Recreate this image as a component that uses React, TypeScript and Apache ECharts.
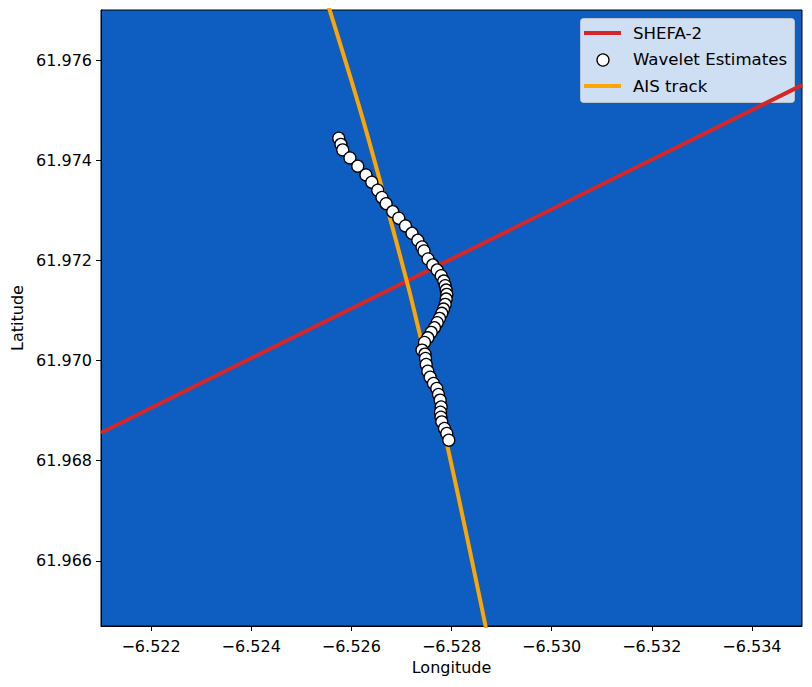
import React, { useEffect, useRef } from "react";
import * as echarts from "echarts";

// Wavelet estimates [longitude, latitude]
const waveletLon: number[] = [
  -6.525748, -6.525792, -6.525828, -6.525972, -6.526128, -6.526292, -6.526408, -6.526527,
  -6.526611, -6.526695, -6.526827, -6.526947, -6.527081, -6.527211, -6.527327, -6.527411,
  -6.527451, -6.527531, -6.527626, -6.527714, -6.527794, -6.527846, -6.527874, -6.527894,
  -6.527906, -6.527894, -6.527874, -6.52784, -6.527806, -6.52776, -6.527714, -6.52766,
  -6.527594, -6.527527, -6.52746, -6.527411, -6.527471, -6.527481, -6.527495, -6.527527,
  -6.527574, -6.52764, -6.527706, -6.52774, -6.527774, -6.527794, -6.52778, -6.52779,
  -6.527806, -6.52786, -6.527906, -6.527946,
];
const waveletLat: number[] = [
  61.974441, 61.974317, 61.974207, 61.974047, 61.973881, 61.973707, 61.973561, 61.973401,
  61.973257, 61.973133, 61.972974, 61.972842, 61.972688, 61.972542, 61.972402, 61.972268,
  61.972188, 61.972028, 61.971908, 61.971808, 61.971694, 61.971588, 61.971494, 61.971408,
  61.971322, 61.971228, 61.971122, 61.971028, 61.970943, 61.970843, 61.970755, 61.970655,
  61.970563, 61.970455, 61.970363, 61.970209, 61.970129, 61.970043, 61.969923, 61.969789,
  61.969669, 61.969543, 61.969443, 61.969323, 61.96921, 61.969075, 61.96897, 61.96887,
  61.968776, 61.968644, 61.968544, 61.96841,
];

// AIS track
const aisLon: number[] = [-6.525503, -6.526262, -6.527127, -6.527395, -6.527906, -6.528719];
const aisLat: number[] = [61.977205, 61.974707, 61.971508, 61.970409, 61.968344, 61.964512];

// SHEFA-2 cable
const shefaLon: number[] = [-6.521, -6.535];
const shefaLat: number[] = [61.96856, 61.9755];

const xTicks: number[] = [-6.522, -6.524, -6.526, -6.528, -6.53, -6.532, -6.534];
const yTicks: number[] = [61.966, 61.968, 61.97, 61.972, 61.974, 61.976];

const FONT = "DejaVu Sans";

export default function App() {
  const ref = useRef<HTMLDivElement>(null);
  useEffect(() => {
    if (!ref.current) return;
    const chart = echarts.init(ref.current, undefined, { renderer: "svg" });
    const zip = (a: number[], b: number[]) => a.map((v, i) => [v, b[i]]);
    const fmtX = (v: number) => (v < 0 ? "\u2212" : "") + Math.abs(v).toFixed(3);
    const legendFont = `16.6px '${FONT}'`;
    chart.setOption({
      animation: false,
      textStyle: { fontFamily: FONT },
      grid: {
        left: 101,
        right: 10,
        top: 10,
        bottom: 61,
        show: true,
        backgroundColor: "#0e5dc0",
        borderColor: "#000",
        borderWidth: 1,
      },
      xAxis: {
        type: "value",
        inverse: true,
        min: -6.535,
        max: -6.521,
        name: "Longitude",
        nameLocation: "middle",
        nameGap: 33,
        nameTextStyle: { fontSize: 16, color: "#000", fontFamily: FONT },
        axisLine: { show: true, onZero: false, lineStyle: { color: "#000", width: 1 } },
        axisTick: { show: true, length: 5, customValues: xTicks, lineStyle: { color: "#000" } },
        axisLabel: {
          customValues: xTicks,
          formatter: (v: number) => fmtX(v),
          fontSize: 16,
          color: "#000",
          fontFamily: FONT,
          margin: 12,
        },
        splitLine: { show: false },
      },
      yAxis: {
        type: "value",
        min: 61.9647,
        max: 61.977,
        name: "Latitude",
        nameLocation: "middle",
        nameGap: 70,
        nameTextStyle: { fontSize: 16, color: "#000", fontFamily: FONT },
        axisLine: { show: true, onZero: false, lineStyle: { color: "#000", width: 1 } },
        axisTick: { show: true, length: 5, customValues: yTicks, lineStyle: { color: "#000" } },
        axisLabel: {
          customValues: yTicks,
          formatter: (v: number) => v.toFixed(3),
          fontSize: 16,
          color: "#000",
          fontFamily: FONT,
          margin: 9,
        },
        splitLine: { show: false },
      },
      series: [
        {
          name: "SHEFA-2",
          type: "line",
          data: zip(shefaLon, shefaLat),
          showSymbol: false,
          lineStyle: { color: "#d62728", width: 4 },
          itemStyle: { color: "#d62728" },
          z: 2,
          clip: true,
        },
        {
          name: "AIS track",
          type: "line",
          data: zip(aisLon, aisLat),
          showSymbol: false,
          smooth: 0.3,
          lineStyle: { color: "#ffa500", width: 4 },
          itemStyle: { color: "#ffa500" },
          z: 3,
          clip: true,
        },
        {
          name: "Wavelet Estimates",
          type: "scatter",
          data: zip(waveletLon, waveletLat),
          symbol: "circle",
          symbolSize: 12,
          itemStyle: { color: "#ffffff", borderColor: "#000", borderWidth: 1.3, opacity: 1 },
          z: 4,
        },
      ],
      graphic: [
        {
          type: "group",
          z: 100,
          children: [
            {
              type: "rect",
              shape: { x: 580.5, y: 18.5, width: 214, height: 84, r: 3 },
              style: { fill: "rgba(255,255,255,0.8)", stroke: "rgba(204,204,204,0.8)", lineWidth: 1 },
            },
            {
              type: "line",
              shape: { x1: 584, y1: 33, x2: 621, y2: 33 },
              style: { stroke: "#d62728", lineWidth: 4 },
            },
            {
              type: "text",
              x: 633,
              y: 33,
              style: { text: "SHEFA-2", fill: "#000", font: legendFont, verticalAlign: "middle" },
            },
            {
              type: "circle",
              shape: { cx: 603, cy: 60, r: 6 },
              style: { fill: "#fff", stroke: "#000", lineWidth: 1.3 },
            },
            {
              type: "text",
              x: 633,
              y: 59,
              style: { text: "Wavelet Estimates", fill: "#000", font: legendFont, verticalAlign: "middle" },
            },
            {
              type: "line",
              shape: { x1: 584, y1: 86, x2: 621, y2: 86 },
              style: { stroke: "#ffa500", lineWidth: 4 },
            },
            {
              type: "text",
              x: 633,
              y: 86,
              style: { text: "AIS track", fill: "#000", font: legendFont, verticalAlign: "middle" },
            },
          ],
        },
      ],
    });
    return () => chart.dispose();
  }, []);
  return (
    <div
      ref={ref}
      style={{ position: "absolute", left: 0, top: 0, width: 812, height: 687, background: "#fff" }}
    />
  );
}
